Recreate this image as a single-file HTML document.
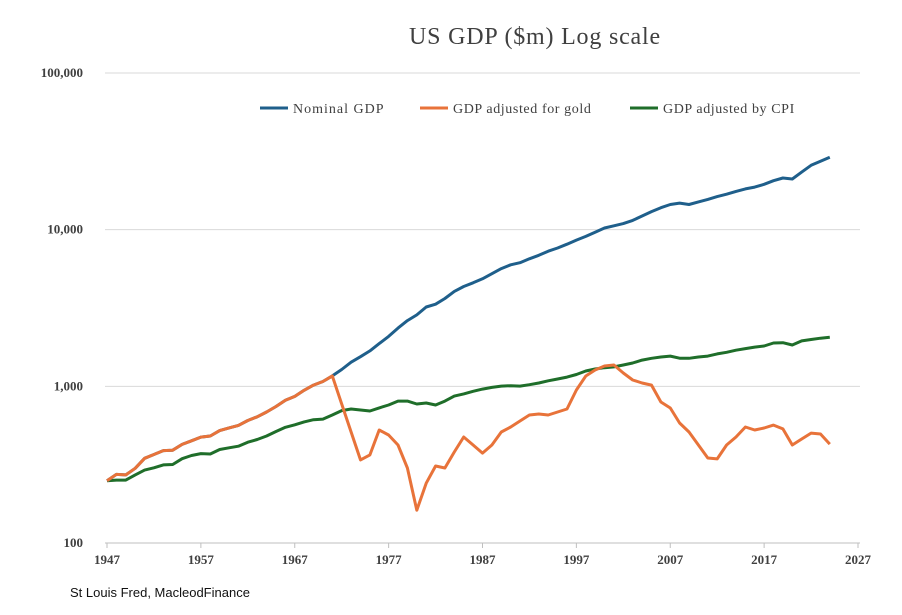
<!DOCTYPE html>
<html><head><meta charset="utf-8"><style>
body{margin:0;background:#fff;width:902px;height:610px;overflow:hidden}
svg text{font-family:"Liberation Serif",serif}
</style></head><body>
<svg id="chart" width="902" height="610">
<text x="535" y="44" text-anchor="middle" font-size="24" letter-spacing="0.8" fill="#404040">US GDP ($m) Log scale</text>
<g id="grid"></g><g id="series"></g>
<g>
<line x1="260" y1="108" x2="288" y2="108" stroke="#1f5f8b" stroke-width="3"/>
<text x="293" y="113" font-size="14" letter-spacing="1" fill="#404040">Nominal GDP</text>
<line x1="420" y1="108" x2="448" y2="108" stroke="#e8733a" stroke-width="3"/>
<text x="453" y="113" font-size="14" letter-spacing="0.6" fill="#404040">GDP adjusted for gold</text>
<line x1="630" y1="108" x2="658" y2="108" stroke="#1f6e2a" stroke-width="3"/>
<text x="663" y="113" font-size="14" letter-spacing="0.6" fill="#404040">GDP adjusted by CPI</text>
</g>
<text x="70" y="597" font-size="13" style="font-family:'Liberation Sans',sans-serif" fill="#111">St Louis Fred, MacleodFinance</text>
</svg>
<script>
const years=[];for(let y=1947;y<=2024;y++)years.push(y);
const nominal=[250,274,272,300,347,367,389,391,426,449,474,482,522,543,563,605,639,686,744,815,862,943,1019,1073,1165,1280,1425,1545,1684,1873,2082,2352,2627,2857,3207,3343,3634,4037,4339,4580,4855,5236,5642,5963,6158,6520,6859,7287,7640,8073,8578,9063,9631,10251,10582,10929,11457,12217,13039,13816,14474,14770,14478,15049,15600,16254,16843,17551,18206,18695,19477,20533,21381,21060,23315,25744,27361,29000];
const goldAdj=[250,274,272,300,347,367,389,391,426,449,474,482,522,543,563,605,639,686,744,815,862,943,1019,1073,1165,771,511,339,365,526,489,422,301,162,241,310,301,381,475,422,375,422,511,550,601,656,666,656,686,717,947,1164,1271,1348,1368,1216,1097,1050,1019,794,727,583,511,422,349,344,422,475,550,526,542,566,535,422,461,503,496,428];
const cpiAdj=[250,252,252,272,292,302,315,317,345,362,372,370,395,405,415,440,458,482,515,548,568,593,612,618,656,700,717,706,696,728,760,805,805,771,783,760,805,866,895,930,960,985,1003,1010,1003,1025,1050,1085,1113,1145,1190,1253,1290,1315,1330,1368,1410,1470,1510,1540,1560,1512,1510,1540,1560,1610,1650,1700,1740,1780,1810,1890,1900,1835,1950,1990,2030,2060];
const yTicks=[100,1000,10000,100000];
const yTickLabels=["100","1,000","10,000","100,000"];
const xTicks=[1947,1957,1967,1977,1987,1997,2007,2017,2027];
const NS="http://www.w3.org/2000/svg";
const X=y=>107+(y-1947)*(858-107)/80;
const Y=v=>543-(Math.log10(v)-2)*(543-73)/3;
function mk(t,a,p){const e=document.createElementNS(NS,t);for(const k in a)e.setAttribute(k,a[k]);p.appendChild(e);return e;}
const grid=document.getElementById('grid');
yTicks.forEach((v,i)=>{
 const l=mk('line',{x1:105,x2:860,y1:Y(v),y2:Y(v),stroke:i==0?'#bfbfbf':'#d9d9d9','stroke-width':1},grid);
 
 
 const t=mk('text',{x:83,y:Y(v)+4,'text-anchor':'end','font-size':13,'font-weight':'bold',fill:'#404040'},grid);
 t.textContent=yTickLabels[i];
 
 
});
xTicks.forEach(yr=>{
 const tk=mk('line',{x1:X(yr),x2:X(yr),y1:543,y2:548,stroke:'#bfbfbf'},grid);
 
 
 const t=mk('text',{x:X(yr),y:564,'text-anchor':'middle','font-size':13,'font-weight':'bold',fill:'#404040'},grid);
 t.textContent=yr;
 
 
});
const ser=document.getElementById('series');
[[cpiAdj,'#1f6e2a','line-cpi'],[nominal,'#1f5f8b','line-nominal'],[goldAdj,'#e8733a','line-gold']].forEach(([d,c,n])=>{
 const pts=d.map((v,i)=>X(years[i]).toFixed(1)+','+Y(v).toFixed(1)).join(' ');
 const p=mk('polyline',{points:pts,fill:'none',stroke:c,'stroke-width':3,'stroke-linejoin':'round'},ser);
 
 
});
</script>
</body></html>
